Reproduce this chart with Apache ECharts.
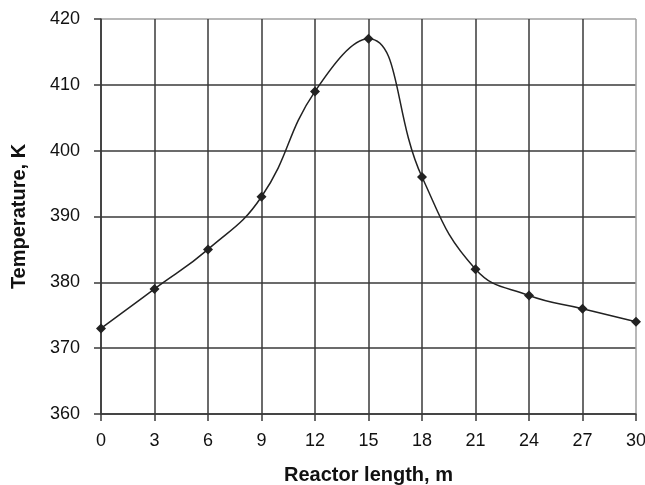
<!DOCTYPE html>
<html>
<head>
<meta charset="utf-8">
<script src="https://cdn.jsdelivr.net/npm/echarts@6/dist/echarts.min.js"></script>
<style>
  html, body { margin: 0; padding: 0; background: #fff; }
  #chart { width: 645px; height: 485px; }
</style>
</head>
<body>
<div id="chart"></div>
<script>
  // reactor length (m) and temperature (K)
  const lengths = [0, 3, 6, 9, 12, 15, 18, 21, 24, 27, 30]
  const temps = [373, 379, 385, 393, 409, 417, 396, 382, 378, 376, 374]

  const myChart = echarts.init(document.getElementById('chart'))
  const font = '"Liberation Sans", Arial, sans-serif'
  const dark = '#3a3a3a'
  const light = '#a0a0a0'
  // last grid line (top / right border) is lighter, like the picture
  const xGridColors = lengths.map((v, i) => (i === lengths.length - 1 ? light : dark))
  const yGridColors = [dark, dark, dark, dark, dark, dark, light]

  const option = {
    animation: false,
    grid: { left: 101, right: 9, top: 19, bottom: 71, containLabel: false, outerBoundsMode: 'none' },
    xAxis: {
      type: 'value',
      min: 0,
      max: 30,
      interval: 3,
      name: 'Reactor length, m',
      nameLocation: 'middle',
      nameGap: 51,
      nameTextStyle: { color: '#111', fontSize: 20, fontWeight: 'bold', fontFamily: font },
      axisLine: { show: true, lineStyle: { color: dark, width: 1.5 } },
      axisTick: { show: true, length: 7, lineStyle: { color: dark, width: 1.5 } },
      axisLabel: { color: '#111', fontSize: 18, fontFamily: font, margin: 18 },
      splitLine: { show: true, lineStyle: { color: xGridColors, width: 1.5 } }
    },
    yAxis: {
      type: 'value',
      min: 360,
      max: 420,
      interval: 10,
      name: 'Temperature, K',
      nameLocation: 'middle',
      nameGap: 72,
      nameTextStyle: { color: '#111', fontSize: 20, fontWeight: 'bold', fontFamily: font },
      axisLine: { show: true, lineStyle: { color: dark, width: 1.5 } },
      axisTick: { show: true, length: 7, lineStyle: { color: dark, width: 1.5 } },
      axisLabel: { color: '#111', fontSize: 18, fontFamily: font, margin: 21 },
      splitLine: { show: true, lineStyle: { color: yGridColors, width: 1.5 } }
    },
    series: [
      {
        type: 'line',
        data: lengths.map((x, i) => [x, temps[i]]),
        smooth: 0.45,
        symbol: 'diamond',
        symbolSize: 10,
        lineStyle: { color: '#222', width: 1.5 },
        itemStyle: { color: '#222' }
      }
    ]
  }

  option && myChart.setOption(option)
</script>
</body>
</html>
